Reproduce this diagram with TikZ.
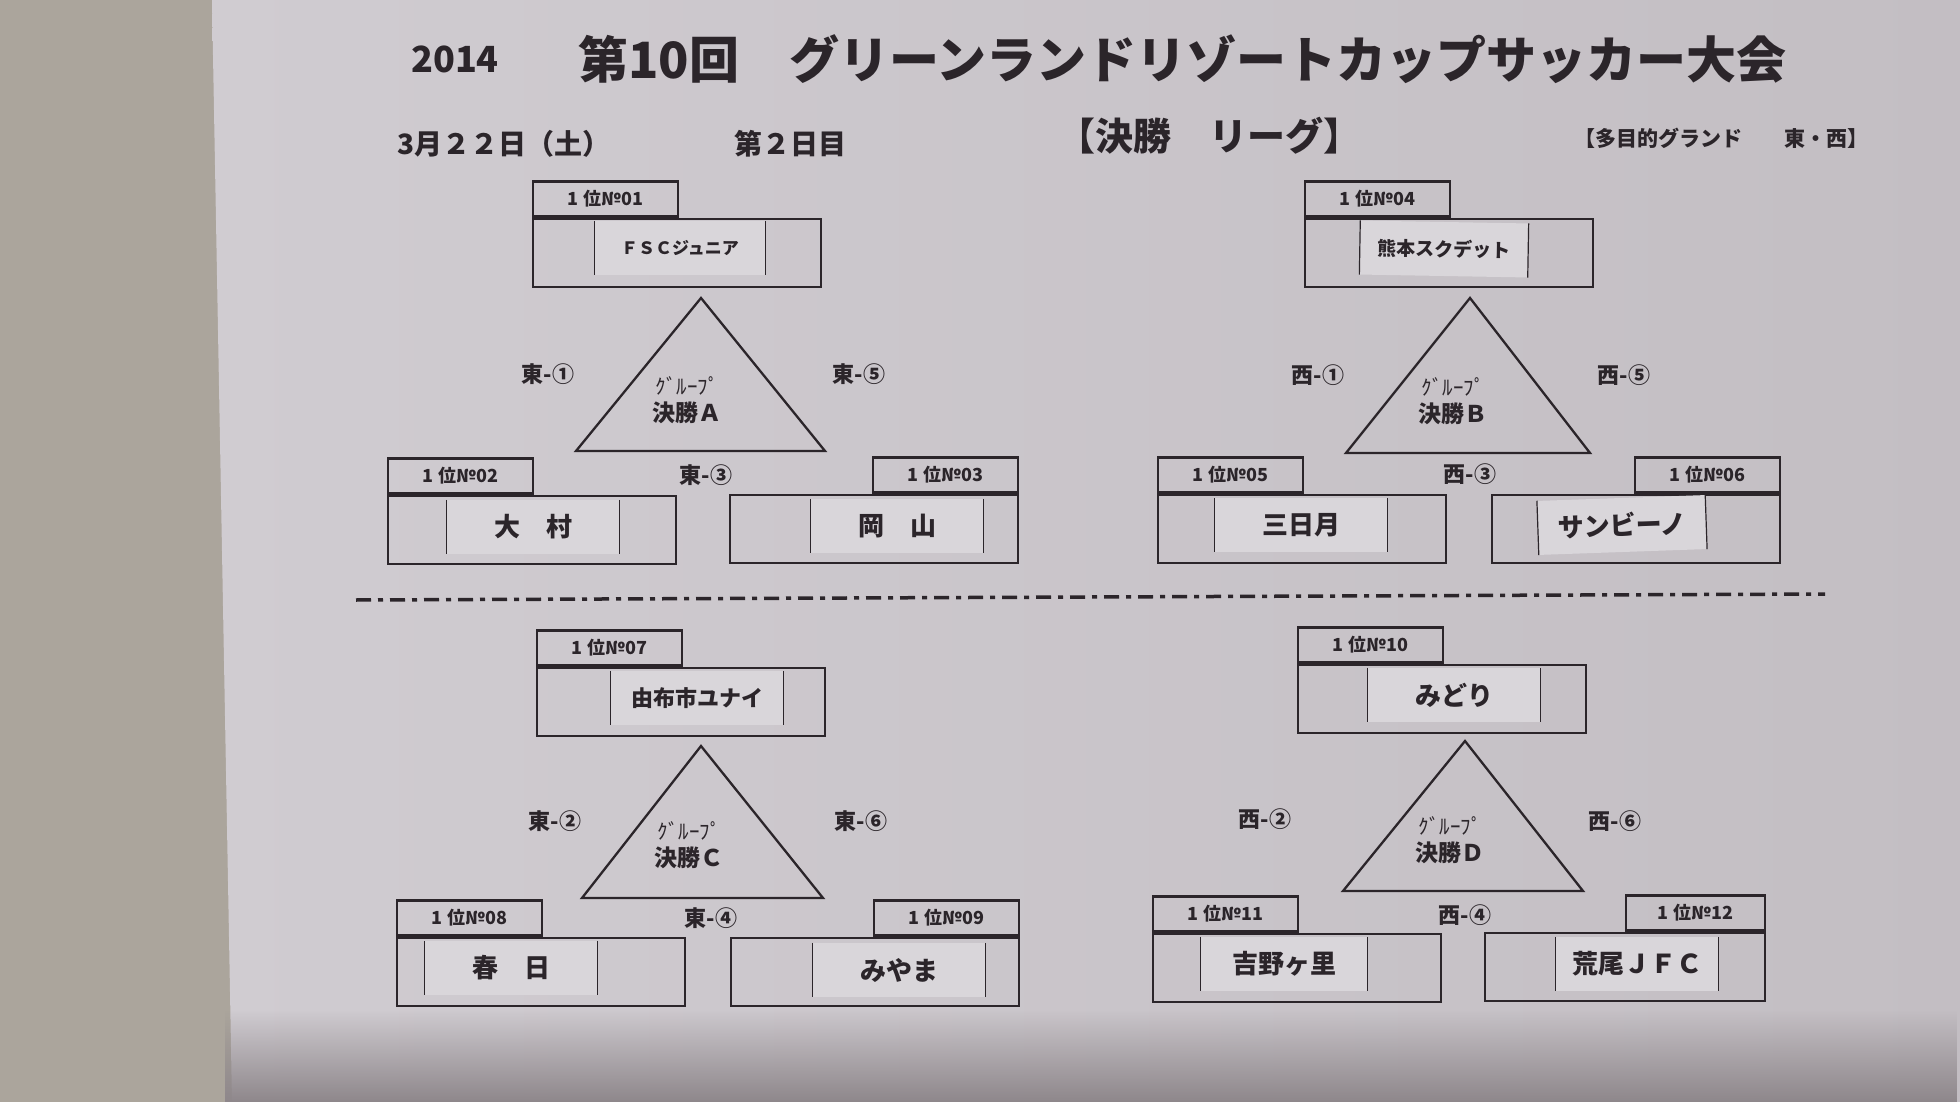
\documentclass[tikz,border=0pt]{standalone}
\usepackage{fontspec}
\setmainfont{Noto Sans CJK JP}
\usepackage{tikz}
\usetikzlibrary{positioning,fadings}

\definecolor{ink}{HTML}{2B252A}
\definecolor{paper}{HTML}{D0CCD1}
\definecolor{paperdark}{HTML}{C3BEC3}
\definecolor{tag}{HTML}{D9D6DA}
\definecolor{desk}{HTML}{ABA59C}
\definecolor{shadow}{HTML}{8E878B}

\begin{document}
\begin{tikzpicture}[
		x=1pt, y=-1pt,
		teambox/.style={draw=ink,line width=2.6pt,minimum width=288pt,minimum height=68pt,inner sep=0pt},
		tabbox/.style={draw=ink,line width=2.6pt,minimum width=145pt,minimum height=35pt,inner sep=0pt,
			text=ink,font=\bfseries\fontsize{18}{18}\selectfont},
		sticker/.style={fill=tag,minimum width=172pt,minimum height=54pt,inner sep=0pt,
			text=ink,font=\bfseries\fontsize{26}{26}\selectfont,
			append after command={(\tikzlastnode.north west) edge[draw=ink,line width=1.2pt] (\tikzlastnode.south west)
				(\tikzlastnode.north east) edge[draw=ink,line width=1.2pt] (\tikzlastnode.south east)}},
		match/.style={text=ink,font=\bfseries\fontsize{22}{22}\selectfont},
		group/.style={draw=ink,line width=2.3pt,line join=miter},
		grouptext/.style={text=ink,align=center,font=\bfseries\fontsize{23}{27}\selectfont}
	]
	\useasboundingbox (0,0) rectangle (1960,1102);

	% desk and sheet
	\fill[desk] (0,0) rectangle (1960,1102);
	\shade[left color=paper,right color=paperdark] (212,0) -- (1960,0) -- (1960,1102) -- (232,1102) -- cycle;
	\fill[shadow,path fading=north] (226,1010) rectangle (1960,1102);

	% heading
	\node[text=ink,font=\bfseries\fontsize{36}{36}\selectfont] (year) at (455,59) {2014};
	\node[text=ink,font=\bfseries\fontsize{50}{50}\selectfont,anchor=west] (title) at (575,59) {第10回　グリーンランドリゾートカップサッカー大会};
	\node[text=ink,font=\bfseries\fontsize{28}{28}\selectfont,anchor=west] (date) at (394,144) {3月２２日（土）};
	\node[text=ink,font=\bfseries\fontsize{28}{28}\selectfont,anchor=west] (day) at (731,144) {第２日目};
	\node[text=ink,font=\bfseries\fontsize{38}{38}\selectfont] (league) at (1209,136) {【決勝　リーグ】};
	\node[text=ink,font=\bfseries\fontsize{21}{21}\selectfont,anchor=east] (ground) at (1872,138) {【多目的グランド　　東・西】};

	\draw[ink,line width=3.5pt,dash pattern=on 15pt off 7pt on 5pt off 7pt] (356,600) -- (1825,594);

	% group A
	\node[teambox] (a1) at (677,253) {};
	\node[tabbox,anchor=south west] (a1t) at (a1.north west) {1 位№01};
	\node[sticker,minimum width=170pt,font=\bfseries\fontsize{17}{17}\selectfont] (a1s) at (680,248) {ＦＳＣジュニア};
	\node[teambox] (a2) at (532,530) {};
	\node[tabbox,anchor=south west] (a2t) at (a2.north west) {1 位№02};
	\node[sticker] (a2s) at (533,527) {大　村};
	\node[teambox] (a3) at (874,529) {};
	\node[tabbox,anchor=south east] (a3t) at (a3.north east) {1 位№03};
	\node[sticker] (a3s) at (897,526) {岡　山};

	\draw[group] (701,298) coordinate (atop) -- (576,451) coordinate (aleft) -- (825,451) coordinate (aright) -- cycle;
	\node[grouptext] (agrp) at (687,400) {{\mdseries\fontsize{21}{21}\selectfont ｸﾞﾙｰﾌﾟ}\\決勝Ａ};
	\node[match] (am1) at (548,374) {東-①};
	\node[match] (am5) at (859,374) {東-⑤};
	\node[match] (am3) at (706,475) {東-③};

	% group B
	\node[teambox] (b1) at (1449,253) {};
	\node[tabbox,anchor=south west] (b1t) at (b1.north west) {1 位№04};
	\node[sticker,minimum width=168pt,rotate=-1,font=\bfseries\fontsize{19}{19}\selectfont] (b1s) at (1444,249) {熊本スクデット};
	\node[teambox] (b2) at (1302,529) {};
	\node[tabbox,anchor=south west] (b2t) at (b2.north west) {1 位№05};
	\node[sticker] (b2s) at (1301,525) {三日月};
	\node[teambox] (b3) at (1636,529) {};
	\node[tabbox,anchor=south east] (b3t) at (b3.north east) {1 位№06};
	\node[sticker,minimum width=168pt,rotate=2] (b3s) at (1622,525) {サンビーノ};

	\draw[group] (1470,298) coordinate (btop) -- (1346,453) coordinate (bleft) -- (1590,453) coordinate (bright) -- cycle;
	\node[grouptext] (bgrp) at (1453,401) {{\mdseries\fontsize{21}{21}\selectfont ｸﾞﾙｰﾌﾟ}\\決勝Ｂ};
	\node[match] (bm1) at (1318,375) {西-①};
	\node[match] (bm5) at (1624,375) {西-⑤};
	\node[match] (bm3) at (1470,474) {西-③};

	% group C
	\node[teambox] (c1) at (681,702) {};
	\node[tabbox,anchor=south west] (c1t) at (c1.north west) {1 位№07};
	\node[sticker,font=\bfseries\fontsize{22}{22}\selectfont] (c1s) at (697,698) {由布市ユナイ};
	\node[teambox] (c2) at (541,972) {};
	\node[tabbox,anchor=south west] (c2t) at (c2.north west) {1 位№08};
	\node[sticker] (c2s) at (511,968) {春　日};
	\node[teambox] (c3) at (875,972) {};
	\node[tabbox,anchor=south east] (c3t) at (c3.north east) {1 位№09};
	\node[sticker] (c3s) at (899,970) {みやま};

	\draw[group] (701,746) coordinate (ctop) -- (582,898) coordinate (cleft) -- (823,898) coordinate (cright) -- cycle;
	\node[grouptext] (cgrp) at (689,845) {{\mdseries\fontsize{21}{21}\selectfont ｸﾞﾙｰﾌﾟ}\\決勝Ｃ};
	\node[match] (cm2) at (555,821) {東-②};
	\node[match] (cm6) at (861,821) {東-⑥};
	\node[match] (cm4) at (711,918) {東-④};

	% group D
	\node[teambox] (d1) at (1442,699) {};
	\node[tabbox,anchor=south west] (d1t) at (d1.north west) {1 位№10};
	\node[sticker] (d1s) at (1454,695) {みどり};
	\node[teambox] (d2) at (1297,968) {};
	\node[tabbox,anchor=south west] (d2t) at (d2.north west) {1 位№11};
	\node[sticker,minimum width=167pt] (d2s) at (1284,964) {吉野ヶ里};
	\node[teambox,minimum width=280pt] (d3) at (1625,967) {};
	\node[tabbox,anchor=south east,minimum width=139pt] (d3t) at (d3.north east) {1 位№12};
	\node[sticker,minimum width=163pt] (d3s) at (1637,964) {荒尾ＪＦＣ};

	\draw[group] (1465,741) coordinate (dtop) -- (1343,891) coordinate (dleft) -- (1583,891) coordinate (dright) -- cycle;
	\node[grouptext] (dgrp) at (1450,840) {{\mdseries\fontsize{21}{21}\selectfont ｸﾞﾙｰﾌﾟ}\\決勝Ｄ};
	\node[match] (dm2) at (1265,819) {西-②};
	\node[match] (dm6) at (1615,821) {西-⑥};
	\node[match] (dm4) at (1465,915) {西-④};
\end{tikzpicture}
\end{document}
